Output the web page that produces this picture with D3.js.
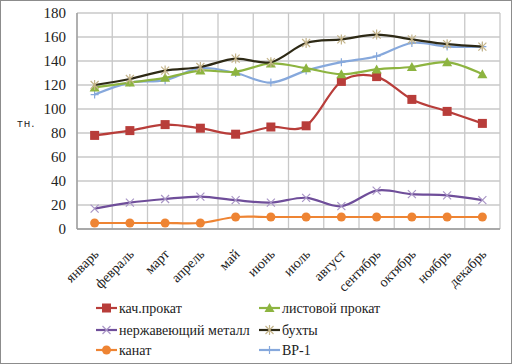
<!DOCTYPE html>
<html><head><meta charset="utf-8">
<script src="https://cdn.jsdelivr.net/npm/d3@7"></script>
<style>html,body{margin:0;padding:0;background:#fff;}svg{display:block;}</style>
</head><body>
<script>
const months = ["январь","февраль","март","апрель","май","июнь","июль","август","сентябрь","октябрь","ноябрь","декабрь"];
const yTicks = [0,20,40,60,80,100,120,140,160,180];
const kachProkat = [78,82,87,84,79,85,86,123,127,108,98,88];
const listProkat = [118,122,126,132,131,138,134,129,133,135,139,129];
const nerzh = [17,22,25,27,24,22,26,19,32,29,28,24];
const buhty = [120,125,132,135,142,139,155,158,162,158,154,152];
const kanat = [5,5,5,5,10,10,10,10,10,10,10,10];
const vr1 = [112,122,124,134,130,122,132,139,144,155,152,152];
const seriesNames = ["кач.прокат","листовой прокат","нержавеющий металл","бухты","канат","ВР-1"];

const SERIF = "'Liberation Serif', 'DejaVu Serif', 'Times New Roman', serif";

const series = [
  {name: seriesNames[0], values: kachProkat, color:"#B83D3A", mcolor:"#B83D3A", marker:"square"},
  {name: seriesNames[1], values: listProkat, color:"#8DB440", mcolor:"#8DB440", marker:"triangle"},
  {name: seriesNames[2], values: nerzh, color:"#6F4E9A", mcolor:"#A996C6", marker:"x"},
  {name: seriesNames[3], values: buhty, color:"#2E2A16", mcolor:"#C4B48A", marker:"star"},
  {name: seriesNames[4], values: kanat, color:"#EE8433", mcolor:"#EE8433", marker:"circle"},
  {name: seriesNames[5], values: vr1, color:"#86A8DC", mcolor:"#86A8DC", marker:"plus"}
];
const drawOrder = [4,2,0,5,1,3];

const W=512,H=364;
const svg=d3.select("body").append("svg").attr("width",W).attr("height",H);
svg.append("rect").attr("x",0.5).attr("y",0.5).attr("width",W-1).attr("height",H-1).attr("fill","#fff").attr("stroke","#8c8c8c").attr("stroke-width",1);

const L=77,R=500,T=13,B=229;
const x=d3.scaleBand().domain(months).range([L,R]);
const y=d3.scaleLinear().domain([0,180]).range([B,T]);
const g=svg.append("g");

// grid
g.selectAll("line.hg").data(yTicks).join("line").attr("x1",L).attr("x2",R).attr("y1",d=>y(d)).attr("y2",d=>y(d)).attr("stroke","#c8c8c8").attr("stroke-width",1.3);
const bounds = months.map(m=>x(m)).concat([R]);
g.selectAll("line.vg").data(bounds).join("line").attr("x1",d=>d).attr("x2",d=>d).attr("y1",T).attr("y2",B).attr("stroke","#c8c8c8").attr("stroke-width",1.3);
g.append("line").attr("x1",L).attr("x2",L).attr("y1",T).attr("y2",B).attr("stroke","#9a9a9a").attr("stroke-width",1.3);
g.append("line").attr("x1",L).attr("x2",R).attr("y1",B).attr("y2",B).attr("stroke","#9a9a9a").attr("stroke-width",1.3);

// y axis labels
const yAxis=d3.axisLeft(y).tickValues(yTicks).tickSize(0).tickPadding(11);
const ya=svg.append("g").attr("transform",`translate(${L},0)`).call(yAxis);
ya.select(".domain").remove();
ya.attr("font-family",SERIF).attr("font-size",15);
ya.selectAll("text").style("font-family",SERIF).style("font-size","15px").attr("fill","#222");

svg.append("text").attr("x",17).attr("y",127).text("тн.").style("font-family","'DejaVu Sans', sans-serif").style("font-size","10px").style("letter-spacing","1px").attr("fill","#222");

// x axis labels
const xAxis=d3.axisBottom(x).tickSize(0).tickPadding(0);
const xa=svg.append("g").attr("transform",`translate(0,${B})`).call(xAxis);
xa.select(".domain").remove();
xa.attr("font-family",SERIF).attr("font-size",14);
xa.selectAll("text").style("font-family",SERIF).style("font-size","14px").attr("fill","#222")
  .attr("text-anchor","end").attr("dy",0).attr("transform","translate(5,26) rotate(-45)");

const cx=i=>x(months[i])+x.bandwidth()/2;
const line=d3.line().x((d,i)=>cx(i)).y(d=>y(d)).curve(d3.curveCatmullRom.alpha(0));

function drawMarker(sel, type, color, px, py){
  if(type==="square") sel.append("rect").attr("x",px-4.5).attr("y",py-4.5).attr("width",9).attr("height",9).attr("fill",color);
  else if(type==="triangle") sel.append("path").attr("d",`M${px},${py-5}L${px+5},${py+4}L${px-5},${py+4}Z`).attr("fill",color);
  else if(type==="circle") sel.append("circle").attr("cx",px).attr("cy",py).attr("r",4.5).attr("fill",color);
  else if(type==="x") sel.append("path").attr("d",`M${px-4},${py-4}L${px+4},${py+4}M${px-4},${py+4}L${px+4},${py-4}`).attr("stroke",color).attr("stroke-width",1.2);
  else if(type==="plus") sel.append("path").attr("d",`M${px-4},${py}L${px+4},${py}M${px},${py-4}L${px},${py+4}`).attr("stroke",color).attr("stroke-width",1.2);
  else if(type==="star") sel.append("path").attr("d",`M${px-4},${py-4}L${px+4},${py+4}M${px-4},${py+4}L${px+4},${py-4}M${px},${py-5}L${px},${py+5}`).attr("stroke",color).attr("stroke-width",1.2);
}

drawOrder.forEach(k=>{
  const s=series[k];
  const sg=svg.append("g");
  sg.append("path").datum(s.values).attr("d",line).attr("fill","none").attr("stroke",s.color).attr("stroke-width",2.2);
  s.values.forEach((v,i)=>drawMarker(sg,s.marker,s.mcolor,cx(i),y(v)));
});

// legend
const legPos=[[96,308],[259,308],[96,330],[259,330],[96,350],[259,350]];
series.forEach((s,k)=>{
  const [lx,ly]=legPos[k];
  const lg=svg.append("g");
  lg.append("line").attr("x1",lx).attr("x2",lx+21).attr("y1",ly).attr("y2",ly).attr("stroke",s.color).attr("stroke-width",2.2);
  drawMarker(lg,s.marker,s.mcolor,lx+10.5,ly);
  lg.append("text").attr("x",lx+23).attr("y",ly+4.5).text(s.name).style("font-family",SERIF).style("font-size","14px").attr("fill","#222");
});
</script>
</body></html>
